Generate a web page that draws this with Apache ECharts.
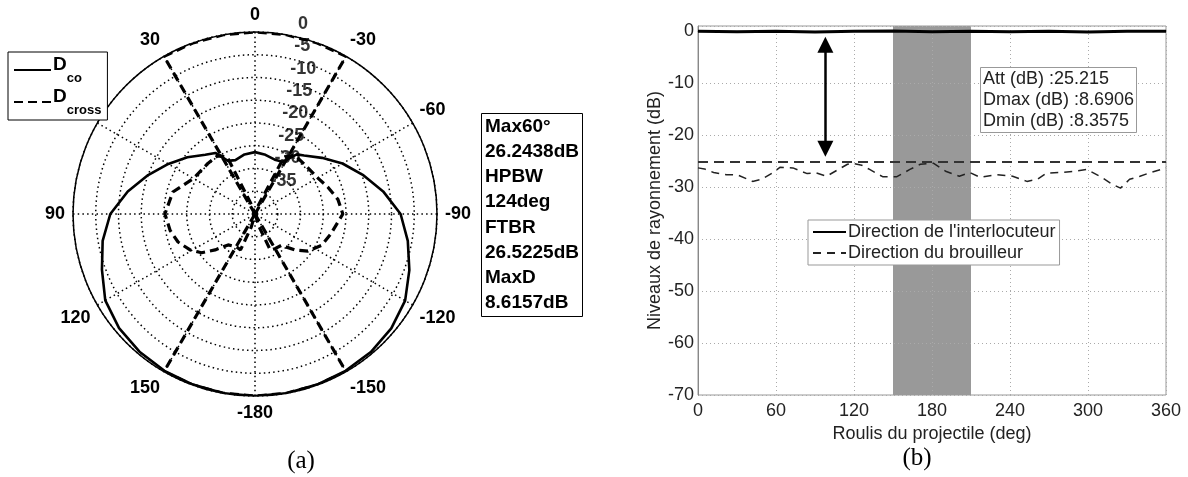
<!DOCTYPE html>
<html>
<head>
<meta charset="utf-8">
<script src="https://cdn.jsdelivr.net/npm/echarts@6/dist/echarts.min.js"></script>
<style>html,body{margin:0;padding:0;background:#fff}#c{width:1188px;height:477px}</style>
</head>
<body>
<div id="c"></div>
<script>
// ---------- (a) polar pattern ----------
const angleTicks = [-180,-150,-120,-90,-60,-30,0,30,60,90,120,150,180];
const ringLabels = [0,-5,-10,-15,-20,-25,-30,-35];
const dcoAngles = [-180,-170,-160,-150,-140,-130,-120,-110,-100,-90,-80,-70,-60,-50,-40,-35,-28,-20,-10,0,10,20,27,33,40,50,60,70,80,90,100,110,120,130,140,150,160,170,180];
const dcoValues = [0,0,-0.1,-0.2,-0.4,-0.9,-1.9,-3.9,-5.9,-8.0,-11.4,-14.8,-17.8,-20.8,-23.2,-24.0,-27.0,-27.3,-26.8,-26.4,-26.7,-27.4,-26.9,-24.0,-23.0,-20.6,-18.0,-15.0,-11.6,-8.2,-6.0,-4.2,-2.0,-1.0,-0.5,-0.2,-0.1,0,0];
const dcrossAngles = [-180,-170,-162,-157,-150,-140,-132,-125,-115,-105,-90,-80,-70,-60,-45,-34,-27,-21,-15,0,15,20,26,33,43,60,75,90,101,110,119,126,132,139,151,158,164,172,180];
const dcrossValues = [-40,-40,-37,-31.4,-31.2,-31.0,-28.2,-25.8,-23.8,-22.8,-20.7,-21.5,-22.9,-24.1,-24.6,-24.4,-26.0,-38,-40,-40,-40,-38,-26.0,-24.8,-24.8,-24.4,-21.3,-20.2,-21.0,-22.0,-23.7,-25.5,-28.2,-31.0,-31.7,-31.5,-37,-40,-40];
const zoneTopAngles = [30,30,20,10,0,-10,-20,-30,-30];
const zoneTopValues = [-40,0,0,0,0,0,0,0,-40];
const zoneBottomAngles = [150,150,160,170,180,-170,-160,-150,-150];
const zoneBottomValues = [-40,0,0,0,0,0,0,0,-40];
const infoLines = ['Max60°','26.2438dB','HPBW','124deg','FTBR','26.5225dB','MaxD','8.6157dB'];

// ---------- (b) roll sweep ----------
const xTicks = [0,60,120,180,240,300,360];
const yTicks = [-70,-60,-50,-40,-30,-20,-10,0];
const interlocRoll = [0,30,60,90,120,150,180,210,240,270,300,330,360];
const interlocValues = [0,-0.1,0,-0.15,0,0.05,-0.1,0,-0.1,0,-0.15,0,0];
const brouilRoll = [0,5,12,22,30,42,49,57,63,73,84,90,99,108,115,119,126,132,142,153,163,171,181,191,201,209,217,230,242,253,261,268,278,288,299,309,319,325,332,340,348,360];
const brouilValues = [-26.3,-26.5,-27.2,-27.6,-27.6,-28.9,-28.5,-27.3,-26.2,-26.3,-27.4,-27.2,-27.9,-26.6,-25.6,-25.4,-25.8,-26.6,-28.0,-28.0,-26.6,-25.6,-25.4,-27.0,-27.9,-27.2,-28.1,-27.6,-27.9,-28.9,-28.5,-27.3,-27.2,-27.0,-26.6,-27.9,-29.5,-30.2,-28.5,-27.9,-27.2,-26.3];
const attLevel = -25.2;
const bandRange = [150, 210];
const arrowRoll = 98;
const arrowEnds = [-2.6, -22.6];
const attLines = ['Att (dB) :25.215','Dmax (dB) :8.6906','Dmin (dB) :8.3575'];

const SANS = "'Liberation Sans', Arial, sans-serif";
const SERIF = "'Liberation Serif', 'Times New Roman', serif";
const zip = (r, a) => r.map((v, i) => [v, a[i]]);

const chart = echarts.init(document.getElementById('c'), null, {renderer: 'canvas'});
chart.setOption({
  animation: false,
  backgroundColor: '#fff',
  title: [
    {text: '(a)', left: 296, top: 444, textAlign: 'center', textStyle: {fontFamily: SERIF, fontSize: 25, fontWeight: 'normal', color: '#000'}},
    {text: '(b)', left: 912, top: 441, textAlign: 'center', textStyle: {fontFamily: SERIF, fontSize: 25, fontWeight: 'normal', color: '#000'}},
    {text: infoLines.join('\n'), left: 481, top: 113, padding: [1, 4, 1, 4], borderColor: '#000', borderWidth: 1, backgroundColor: '#fff',
     textStyle: {fontFamily: SANS, fontSize: 19, fontWeight: 'bold', lineHeight: 25.2, color: '#000'}},
    {text: attLines.join('\n'), left: 980, top: 67, padding: [2, 3, 1, 3], borderColor: '#999', borderWidth: 1, backgroundColor: '#fff',
     textStyle: {fontFamily: SANS, fontSize: 18, fontWeight: 'normal', lineHeight: 21, color: '#222'}}
  ],
  legend: [
    {data: ['Dco', 'Dcross'], orient: 'vertical', left: 8, top: 52, padding: [3, 6, 3, 5], itemGap: 2,
     itemWidth: 37, itemHeight: 14, borderColor: '#000', borderWidth: 1, backgroundColor: '#fff',
     itemStyle: {opacity: 0},
     formatter: n => '{m|D}{s|' + n.slice(1) + '}',
     textStyle: {color: '#000', fontFamily: SANS, padding: [0, 0, 0, -3],
       rich: {m: {fontSize: 19, fontWeight: 'bold', fontFamily: SANS, color: '#000', lineHeight: 30, verticalAlign: 'top'},
              s: {fontSize: 13, fontWeight: 'bold', fontFamily: SANS, color: '#000', lineHeight: 30, verticalAlign: 'bottom', padding: [10, 0, 0, 0]}}}},
    {data: ["Direction de l'interlocuteur", 'Direction du brouilleur'], orient: 'vertical', left: 808, top: 220,
     padding: [3, 4, 3, 4], itemGap: 3, itemWidth: 33, itemHeight: 14, borderColor: '#999', borderWidth: 1, backgroundColor: '#fff',
     itemStyle: {opacity: 0},
     textStyle: {color: '#222', fontFamily: SANS, fontSize: 18, padding: [0, 0, 0, -3]}}
  ],
  polar: {center: [255, 214], radius: 182},
  angleAxis: {
    type: 'value', min: -180, max: 180, interval: 30, startAngle: -90, clockwise: false,
    axisLine: {show: true, lineStyle: {color: '#000', width: 1.5}},
    axisTick: {show: false},
    axisLabel: {show: true, margin: 8, color: '#000', fontFamily: SANS, fontSize: 18, fontWeight: 'bold',
      formatter: v => (v === 180 || v === 60) ? '' : String(v)},
    splitLine: {show: true, lineStyle: {color: '#000', width: 1.5, type: [1.5, 3.2]}}
  },
  radiusAxis: {
    type: 'value', min: -40, max: 0, interval: 5,
    axisLine: {show: false}, axisTick: {show: false}, axisLabel: {show: false},
    splitLine: {show: true, lineStyle: {color: '#000', width: 1.5, type: [1.5, 3.2]}}
  },
  grid: {left: 698, top: 26, right: 22, bottom: 82, show: true, borderColor: '#999', borderWidth: 1},
  xAxis: {
    type: 'value', min: 0, max: 360, interval: 60, z: 1.5,
    name: 'Roulis du projectile (deg)', nameLocation: 'middle', nameGap: 26,
    nameTextStyle: {fontFamily: SANS, fontSize: 18, color: '#222'},
    axisLine: {show: true, lineStyle: {color: '#888', width: 1}},
    axisTick: {show: false},
    axisLabel: {color: '#222', fontFamily: SANS, fontSize: 18, margin: 7, formatter: v => xTicks.includes(v) ? String(v) : ''},
    splitLine: {show: true, lineStyle: {color: '#aaa', width: 1, type: [1, 3]}}
  },
  yAxis: {
    type: 'value', min: -70, max: 1, interval: 10, z: 1.5,
    name: 'Niveaux de rayonnement (dB)', nameLocation: 'middle', nameGap: 32,
    nameTextStyle: {fontFamily: SANS, fontSize: 18, color: '#222'},
    axisLine: {show: true, lineStyle: {color: '#888', width: 1}},
    axisTick: {show: false},
    axisLabel: {color: '#222', fontFamily: SANS, fontSize: 18, margin: 4, showMaxLabel: false,
      formatter: v => yTicks.includes(v) ? String(v) : ''},
    splitLine: {show: true, lineStyle: {color: '#aaa', width: 1, type: [1, 3]}}
  },
  series: [
    {name: 'Dco', type: 'line', coordinateSystem: 'polar', polarIndex: 0, data: zip(dcoValues, dcoAngles),
     showSymbol: false, symbol: 'none', lineStyle: {color: '#000', width: 2.6}, itemStyle: {color: '#000'}, z: 3},
    {name: 'Dcross', type: 'line', coordinateSystem: 'polar', data: zip(dcrossValues, dcrossAngles),
     showSymbol: false, symbol: 'none', lineStyle: {color: '#000', width: 3.2, type: [9, 5]}, itemStyle: {color: '#000'}, z: 3},
    {name: 'zoneTop', type: 'line', coordinateSystem: 'polar', data: zip(zoneTopValues, zoneTopAngles),
     showSymbol: false, symbol: 'none', lineStyle: {color: '#000', width: 3.2, type: [9, 5]}, z: 3},
    {name: 'zoneBottom', type: 'line', coordinateSystem: 'polar', data: zip(zoneBottomValues, zoneBottomAngles),
     showSymbol: false, symbol: 'none', lineStyle: {color: '#000', width: 3.2, type: [9, 5]}, z: 3},
    {name: 'ringLabels', type: 'scatter', coordinateSystem: 'polar', data: ringLabels.map(v => [v, -10]),
     symbolSize: 1, itemStyle: {color: 'rgba(0,0,0,0)'}, silent: true, z: 4,
     label: {show: true, position: 'right', distance: 11, offset: [0, -11], formatter: p => String(p.value[0]),
       color: '#000', fontFamily: SANS, fontSize: 18, fontWeight: 'bold'}},
    {name: "Direction de l'interlocuteur", type: 'line', xAxisIndex: 0, yAxisIndex: 0, data: zip(interlocRoll, interlocValues),
     showSymbol: false, symbol: 'none', lineStyle: {color: '#000', width: 3}, itemStyle: {color: '#000'}, z: 3,
     markLine: {silent: true, symbol: ['triangle', 'triangle'], symbolSize: [16, 16], label: {show: false},
       lineStyle: {color: '#000', width: 2.5, type: 'solid'},
       data: [[{coord: [arrowRoll, arrowEnds[0]]}, {coord: [arrowRoll, arrowEnds[1]]}]]}},
    {name: 'Direction du brouilleur', type: 'line', data: zip(brouilRoll, brouilValues),
     showSymbol: false, symbol: 'none', lineStyle: {color: '#222', width: 1.5, type: [8, 6]}, itemStyle: {color: '#222'}, z: 3,
     markLine: {silent: true, symbol: 'none', label: {show: false}, lineStyle: {color: '#333', width: 2, type: [10, 6]},
       data: [{yAxis: attLevel}]},
     markArea: {silent: true, itemStyle: {color: '#999999', opacity: 1}, z: 1,
       data: [[{xAxis: bandRange[0]}, {xAxis: bandRange[1]}]]}}
  ]
});
</script>
</body>
</html>
